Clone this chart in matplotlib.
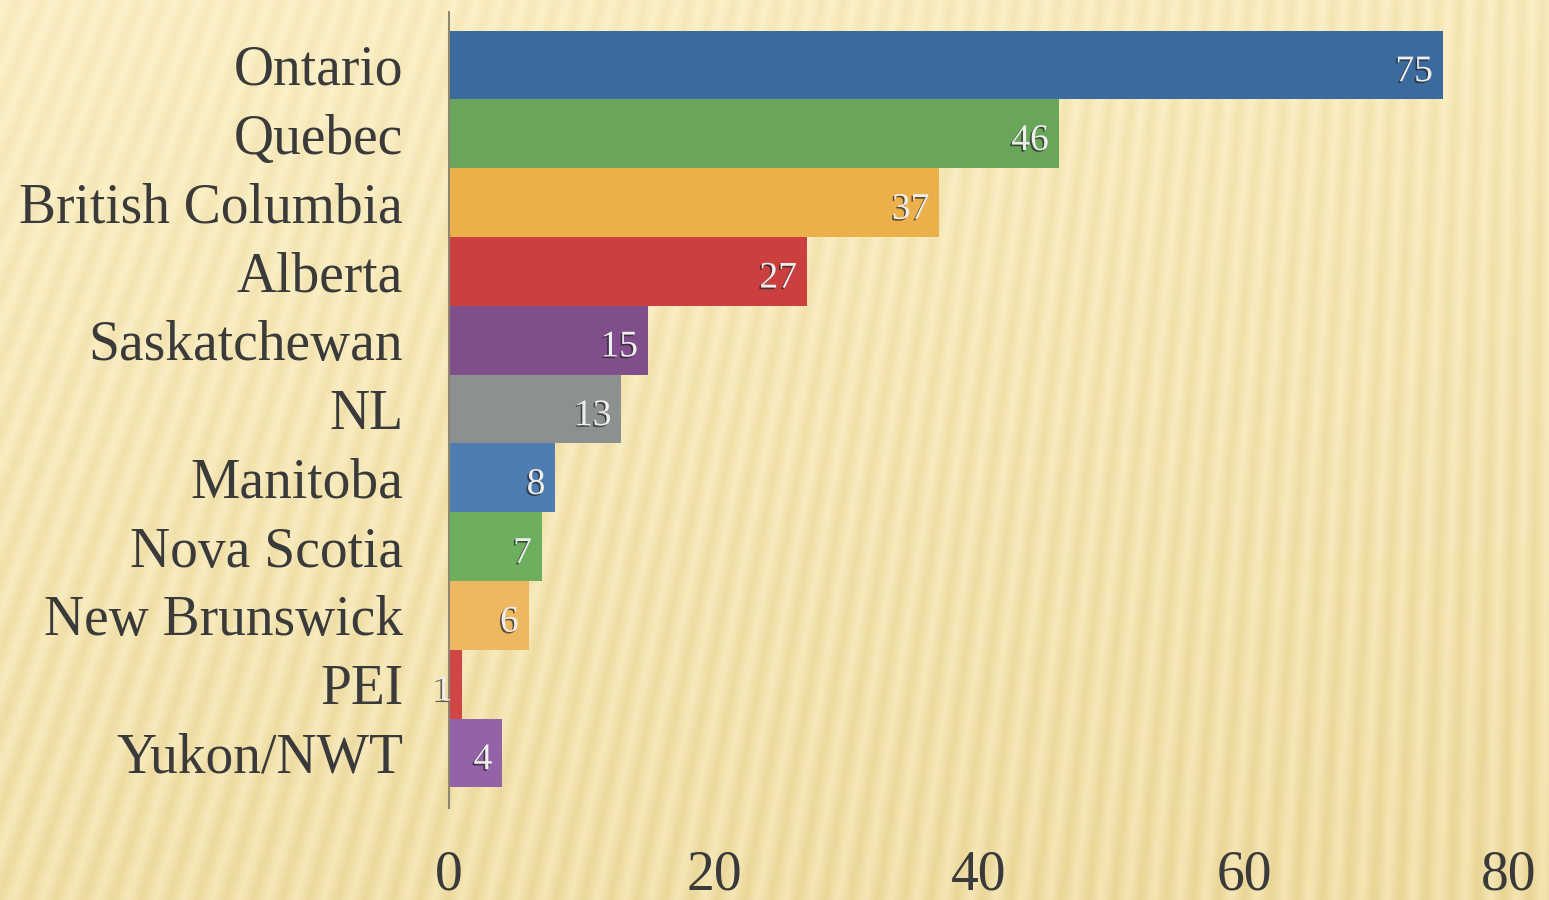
import matplotlib.pyplot as plt
import matplotlib.patheffects as pe
import numpy as np

provinces = ['Ontario', 'Quebec', 'British Columbia', 'Alberta', 'Saskatchewan',
             'NL', 'Manitoba', 'Nova Scotia', 'New Brunswick', 'PEI', 'Yukon/NWT']
counts = [75, 46, 37, 27, 15, 13, 8, 7, 6, 1, 4]
bar_colors = ['#3b6a9c', '#6aa659', '#ecb04a', '#cb403e', '#7f4e8b', '#8c908e',
              '#4f7db1', '#6daf5e', '#efb760', '#d04545', '#9462a6']
x_ticks = [0, 20, 40, 60, 80]

W, H = 1549, 900
fig = plt.figure(figsize=(W / 100, H / 100), dpi=100)

# ======= striped yellow background ======= #
yy, xx = np.mgrid[0:H, 0:W].astype(float)
theta = np.arctan2(xx - 1600.0, yy + 3800.0)  # lines fanning out from a far point
stripes = 0.5 + 0.5 * np.sin(theta / 0.0055 * 2 * np.pi)
shade = yy / H * 0.65 + (xx / W) * 0.2
light = np.array([253, 243, 205]) / 255
dark = np.array([230, 208, 140]) / 255
mix = np.clip(0.05 + 0.45 * shade + 0.45 * stripes * (0.45 + 0.55 * shade), 0, 1)
img = light[None, None, :] * (1 - mix[..., None]) + dark[None, None, :] * mix[..., None]
bg = fig.add_axes([0, 0, 1, 1], zorder=-1)
bg.imshow(img, aspect='auto', interpolation='bilinear')
bg.axis('off')

# ======= bars ======= #
ax = fig.add_axes([449 / W, 1 - 808 / H, (1509 - 449) / W, (808 - 12) / H])
ax.set_facecolor('none')
y = np.arange(len(provinces))
ax.barh(y, counts, height=1.0, color=bar_colors)
ax.set_xlim(0, 80)
ax.set_ylim(10.8, -0.77)

for yi, v in zip(y, counts):
    ax.annotate(str(v), (v, yi), xytext=(-7, -5), textcoords='offset points',
                ha='right', va='center', fontsize=27, family='Liberation Serif',
                color='#eeeeee',
                path_effects=[pe.withSimplePatchShadow(offset=(-1.2, -1.2),
                                                       shadow_rgbFace='#222222', alpha=0.7)])

ax.set_yticks(y)
ax.set_yticklabels(provinces, family='Liberation Serif', fontsize=40, color='#3a3a3a')
ax.set_xticks(x_ticks)
ax.set_xticklabels([str(t) for t in x_ticks], family='Liberation Serif', fontsize=40,
                   color='#3a3a3a')
ax.tick_params(axis='y', length=0, pad=33)
ax.tick_params(axis='x', length=0, pad=30)

for s in ['top', 'right', 'bottom']:
    ax.spines[s].set_visible(False)
ax.spines['left'].set_color('#8d8670')
ax.spines['left'].set_linewidth(1.5)

fig.savefig('out.png', dpi=100)
